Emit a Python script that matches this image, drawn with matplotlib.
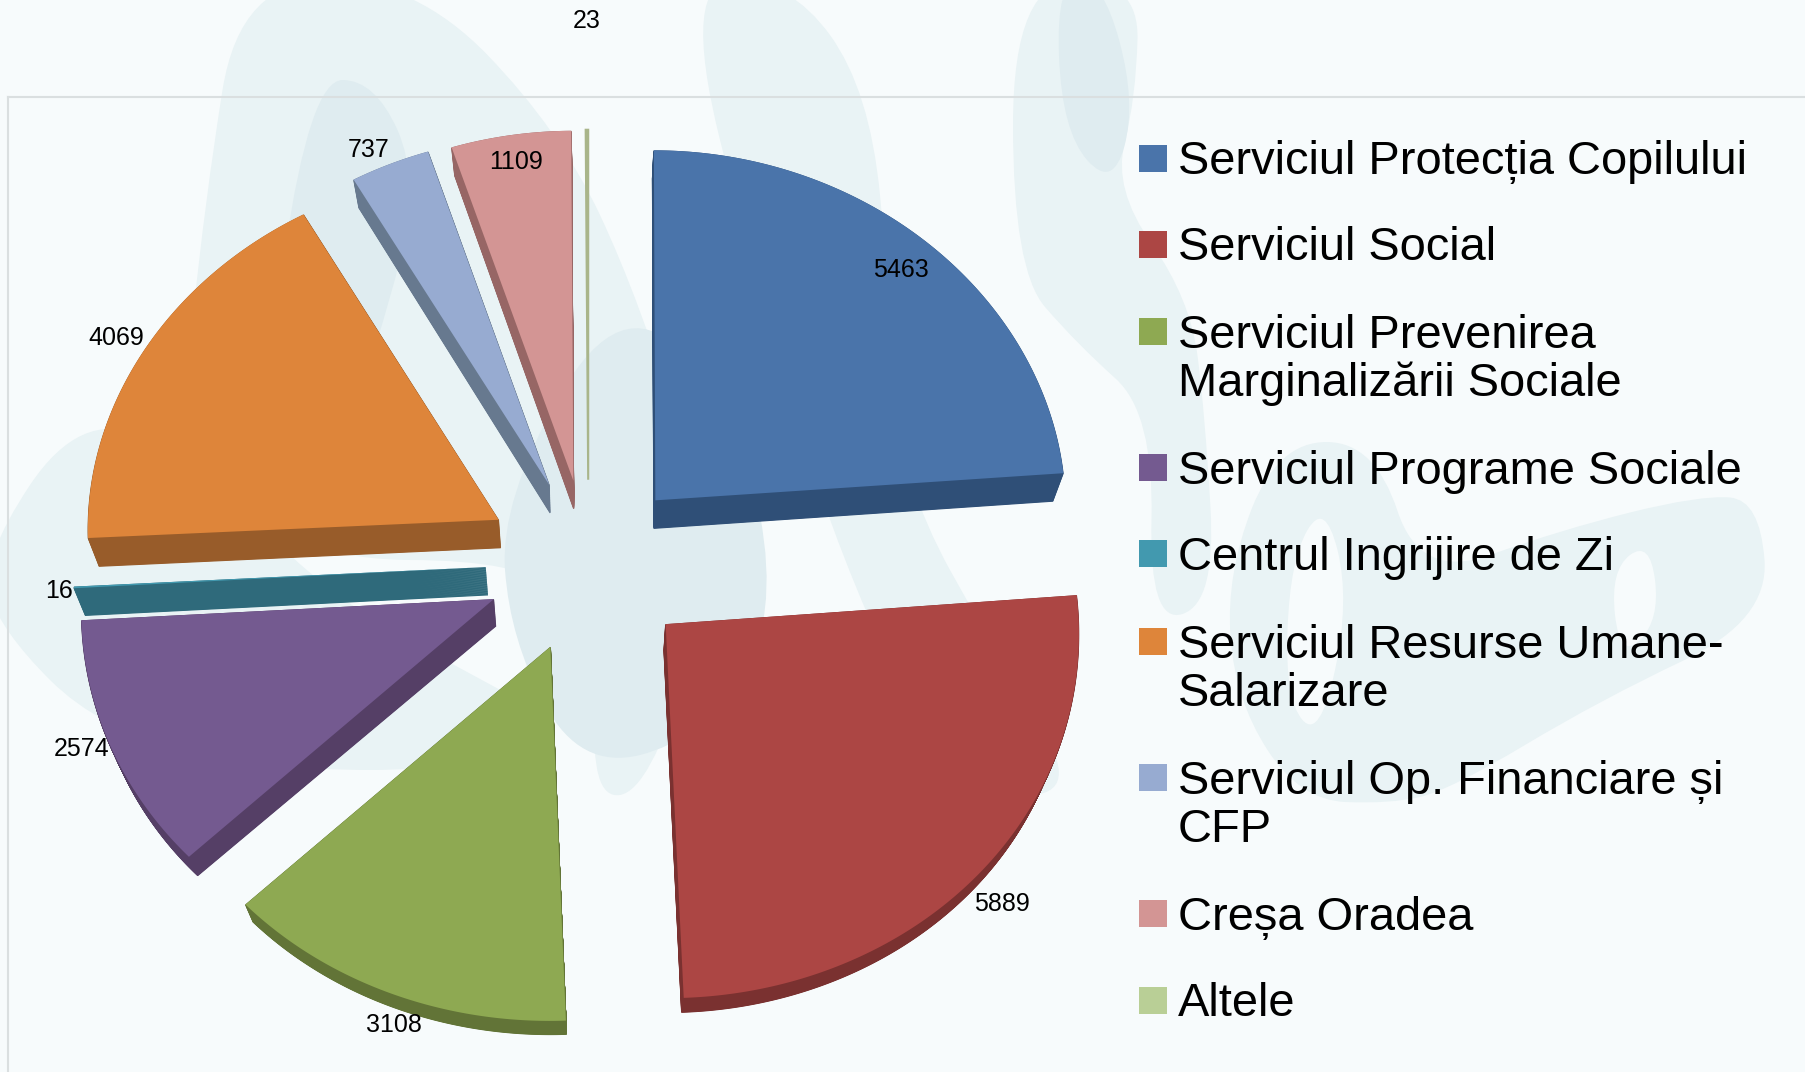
import numpy as np
import matplotlib
matplotlib.use('Agg')
import matplotlib.pyplot as plt
from matplotlib.patches import Polygon, Rectangle, PathPatch
from matplotlib.path import Path

plt.rcParams['font.family'] = ['Liberation Sans', 'DejaVu Sans']

W, H = 1806, 1072

names = ['Serviciul Protecția Copilului', 'Serviciul Social',
         'Serviciul Prevenirea\nMarginalizării Sociale', 'Serviciul Programe Sociale',
         'Centrul Ingrijire de Zi', 'Serviciul Resurse Umane-\nSalarizare',
         'Serviciul Op. Financiare și\nCFP', 'Creșa Oradea', 'Altele']
values = [5463, 5889, 3108, 2574, 16, 4069, 737, 1109, 23]
colors = ['#4A74AA', '#AC4644', '#8EA952', '#745A90', '#4299AF',
          '#DE853A', '#97ABD1', '#D39594', '#B9CF96']
top_colors = ['#4A74AA', '#AC4644', '#8EA952', '#745A90', '#4299AF',
              '#DE853A', '#97ABD1', '#D39594', '#A9B58A']
side_colors = ['#2F4F77', '#7A3130', '#627437', '#553F66', '#2F6A7B',
               '#985C2A', '#67798F', '#976665', '#A9B58A']
explode = [0.24, 0.25, 0.245, 0.25, 0.25, 0.25, 0.24, 0.235, 0.235]
has_depth = [1, 1, 1, 1, 1, 1, 1, 1, 0]

# where the value labels sit, in pixels
label_pos = [(901, 270), (1002, 904), (394, 1025), (82, 749), (59, 591),
             (116, 338), (369, 150), (516, 162), (587, 21)]

# legend rows, y of the first text line in pixels
legend_y = [159, 245, 332, 468, 554, 642, 778, 914, 1001]

# pale watermark behind the chart, pixels
paper = '#F7FBFC'
mark_light = [
    [(240, -20), (415, -20), (560, 130), (640, 300), (720, 560), (650, 790), (590, 800), (600, 620),
     (520, 560), (300, 560), (180, 440), (205, 200)],
    [(680, -20), (790, -20), (870, 90), (890, 300), (900, 480), (1000, 660), (1085, 800), (950, 790), (840, 560), (760, 300)],
    [(-20, 560), (80, 410), (200, 460), (320, 590), (480, 680), (560, 720), (470, 770), (270, 770), (100, 730), (0, 630)],
    [(1013, -20), (1139, -20), (1136, 98), (1113, 189), (1190, 298), (1205, 413), (1216, 603), (1149, 625),
     (1154, 413), (1077, 344), (1013, 270)],
    [(1226, 574), (1278, 442), (1375, 442), (1420, 580), (1560, 530), (1700, 495), (1760, 500), (1769, 620),
     (1600, 700), (1450, 790), (1390, 804), (1300, 800), (1235, 700)],
]
mark_dark = [
    [(310, 80), (375, 80), (420, 180), (380, 340), (300, 560), (260, 420)],
    [(500, 500), (620, 290), (740, 410), (780, 620), (700, 740), (580, 770), (510, 640)],
    [(1056, -20), (1103, -20), (1136, 103), (1113, 189), (1062, 132)],
]
mark_holes = [
    [(1290, 560), (1325, 500), (1350, 600), (1320, 740), (1285, 700)],
    [(1610, 570), (1650, 540), (1660, 620), (1620, 660)],
]

fig = plt.figure(figsize=(W / 100, H / 100), dpi=100, facecolor=paper)


def blob(pts):
    # rounded closed outline through the midpoints of the given corners
    pts = np.array(pts, dtype=float)
    mids = (pts + np.roll(pts, -1, axis=0)) / 2
    verts = [mids[-1]]
    codes = [Path.MOVETO]
    for p, m in zip(pts, mids):
        verts += [p, m]
        codes += [Path.CURVE3, Path.CURVE3]
    return Path(verts, codes)


bg = fig.add_axes([0, 0, 1, 1], zorder=0)
bg.set_xlim(0, W)
bg.set_ylim(H, 0)
bg.axis('off')
for pts in mark_light:
    bg.add_patch(PathPatch(blob(pts), fc='#E9F3F5', ec='none'))
for pts in mark_dark:
    bg.add_patch(PathPatch(blob(pts), fc='#DFECF0', ec='none'))
for pts in mark_holes:
    bg.add_patch(PathPatch(blob(pts), fc=paper, ec='none'))
bg.plot([8, W], [97, 97], color='#DADFE0', lw=1.5)
bg.plot([8, 8], [97, H], color='#DADFE0', lw=1.5)

ax = fig.add_axes([0, 0, 1, 1], zorder=1)
ax.patch.set_alpha(0)
wedges, _ = ax.pie(values, explode=explode, colors=colors, startangle=90, counterclock=False,
                   radius=1, wedgeprops={'edgecolor': 'none', 'zorder': 3})
ax.set_aspect('auto')


# perspective: the pie is flatter behind the centre than in front of it
def to_screen(y):
    return np.where(y > 0, y * 350.0, y * 374.0)


def from_screen(v):
    return np.where(v > 0, v / 350.0, v / 374.0)


ax.set_yscale('function', functions=(to_screen, from_screen))
ax.set_xlim(-588.5 / 410, (W - 588.5) / 410)
ax.set_ylim(-(H - 562) / 374, 562 / 350)
ax.axis('off')


def outline(w):
    # fine outline of a pie wedge, wider towards the viewer
    theta = np.radians(np.linspace(w.theta1, w.theta2, 240))
    cx, cy = w.center
    x = np.concatenate([[cx], cx + w.r * np.cos(theta)])
    y = np.concatenate([[cy], cy + w.r * np.sin(theta)])
    return np.column_stack([x * (1.004 - 0.022 * y), y])


def sink(pts, t):
    # t=1 is the bottom face, thinner towards the front of the pie
    x = pts[:, 0] * (1 - 0.022 * t)
    y = pts[:, 1]
    depth = np.where(y > 0, 28.0, 28.0 + 14.0 * y / 1.2)
    return np.column_stack([x, y - t * depth / np.where(y > 0, 350.0, 374.0)])


for w, c, top, d in zip(wedges, side_colors, top_colors, has_depth):
    poly = outline(w)
    w.set_visible(False)
    if d:
        for t in np.linspace(1, 0.02, 40):
            ax.add_patch(Polygon(sink(poly, t), closed=True, fc=c, ec=c, lw=0.8, zorder=2))
        ax.add_patch(Polygon(poly, closed=True, fc=top, ec='none', zorder=3))
    else:
        ax.add_patch(Polygon(poly, closed=True, fc=top, ec=top, lw=1.5, zorder=3))

ov = fig.add_axes([0, 0, 1, 1], zorder=2)
ov.set_xlim(0, W)
ov.set_ylim(H, 0)
ov.patch.set_alpha(0)
ov.axis('off')

for v, (x, y) in zip(values, label_pos):
    ov.text(x, y, str(v), fontsize=18, ha='center', va='center', color='black')

for name, c, y in zip(names, colors, legend_y):
    ov.add_patch(Rectangle((1139, y - 14), 28, 27, fc=c, ec='none'))
    ov.text(1178, y - 18.5, name, fontsize=33.8, ha='left', va='top', color='black', linespacing=1.13)

fig.savefig('out.png', dpi=100, facecolor=fig.get_facecolor())
